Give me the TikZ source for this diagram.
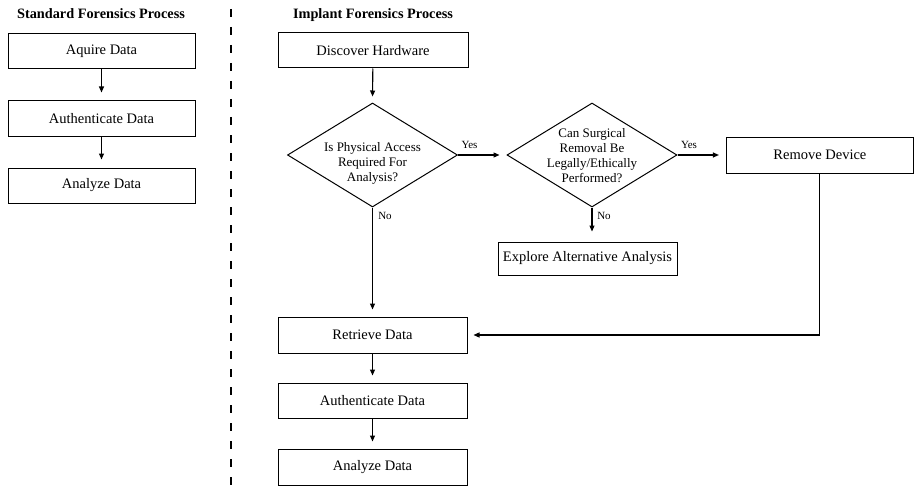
\documentclass[tikz,border=0pt]{standalone}
\usepackage{fontspec}
\setmainfont{Liberation Serif}
\usetikzlibrary{arrows.meta,shapes.geometric}
\begin{document}
\begin{tikzpicture}[x=1pt,y=-1pt,
 box/.style={draw,line width=1pt,minimum height=35pt,inner sep=0pt,font=\fontsize{14.5}{17}\selectfont},
 dia/.style={draw,diamond,line width=1pt,minimum width=170pt,minimum height=104pt,inner sep=0pt},
 diatext/.style={align=center,font=\fontsize{13}{15}\selectfont,inner sep=0pt},
 head/.style={font=\fontsize{14.3}{17}\selectfont\bfseries,anchor=base,inner sep=0pt},
 lab/.style={font=\fontsize{11}{13}\selectfont,inner sep=0pt},
 arr/.style={line width=1.1pt,-{Triangle[length=6pt,width=5pt]},shorten >=7pt},
 ln/.style={line width=1.1pt}]
\useasboundingbox (0,0) rectangle (914,487);

% headers
\node[head] (h1) at (101,18.5) {Standard Forensics Process};
\node[head] (h2) at (373,18.5) {Implant Forensics Process};

% divider
\coordinate (dvt) at (231,9);
\coordinate (dvb) at (231,487);
\draw[line width=1.2pt,dash pattern=on 8pt off 10pt] (dvt) -- (dvb);

% standard process
\node[box,minimum width=187pt] (s1) at (101.5,51) {Aquire Data};
\node[box,minimum width=187pt] (s2) at (101.5,118.5) {Authenticate Data};
\node[box,minimum width=187pt] (s3) at (101.5,185.5) {Analyze Data};
\draw[arr,shorten >=8pt] (s1) -- (s2);
\draw[arr,shorten >=8pt] (s2) -- (s3);

% implant process
\node[box,minimum width=190pt] (dh) at (373,50.5) {Discover Hardware};
\node[dia] (d1) at (372.5,155) {};
\node[diatext] (d1t) at (372.5,163) {Is Physical Access\\Required For\\Analysis?};
\node[dia] (d2) at (592,155) {};
\node[diatext] (d2t) at (592,156) {Can Surgical\\Removal Be\\Legally/Ethically\\Performed?};
\node[box,minimum width=187pt,minimum height=36pt] (rm) at (819.9,155) {Remove Device};
\node[box,minimum width=179pt,minimum height=33pt] (ex) at (587.5,258.5) {Explore Alternative Analysis};
\node[box,minimum width=189pt,minimum height=36pt] (rt) at (372.5,335) {Retrieve Data};
\node[box,minimum width=189pt] (au) at (372.5,400.5) {Authenticate Data};
\node[box,minimum width=189pt,minimum height=36pt] (an) at (372.5,467) {Analyze Data};

\draw[arr,shorten >=6pt] (dh) -- (d1.north);
\draw[arr] (d1.east) -- (d2.west);
\draw[arr] (d2.east) -- (rm.west);
\draw[arr] (d1.south) -- (rt.north);
\draw[arr,shorten >=10pt] (d2.south) -- (d2.south |- ex.north);
\draw[arr,shorten >=6pt] (rm.south) |- (rt.east);
\draw[arr] (rt) -- (au);
\draw[arr] (au) -- (an);

% labels
\node[lab] (y1) at (469.5,145) {Yes};
\node[lab] (y2) at (689,145) {Yes};
\node[lab] (n1) at (385,216) {No};
\node[lab] (n2) at (604,216) {No};
\end{tikzpicture}
\end{document}
